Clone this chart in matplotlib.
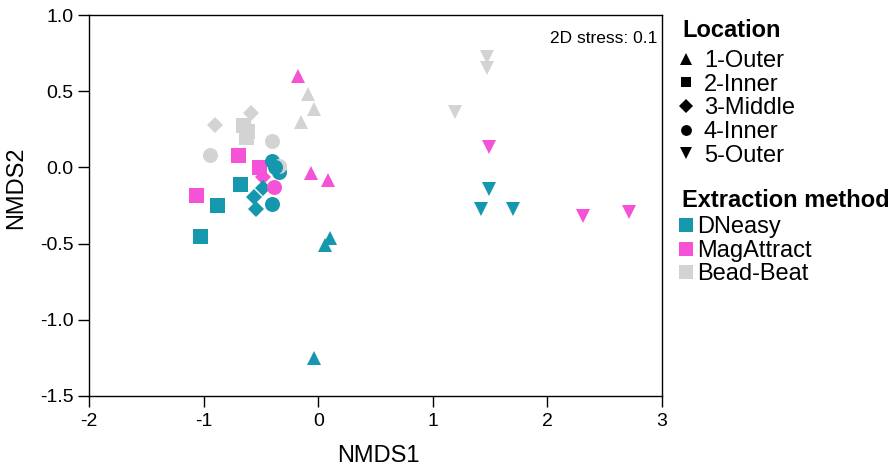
import matplotlib
matplotlib.use("Agg")
import matplotlib.pyplot as plt
from matplotlib.lines import Line2D

plt.rcParams['font.family'] = ['Liberation Sans', 'DejaVu Sans']

teal = '#1597AD'
magenta = '#F552D8'
gray = '#D3D3D3'

methods = ['DNeasy', 'MagAttract', 'Bead-Beat']
method_colors = {'DNeasy': teal, 'MagAttract': magenta, 'Bead-Beat': gray}
locations = ['1-Outer', '2-Inner', '3-Middle', '4-Inner', '5-Outer']
loc_markers = {'1-Outer': '^', '2-Inner': 's', '3-Middle': 'D', '4-Inner': 'o', '5-Outer': 'v'}

loc_list = (['1-Outer'] * 9 + ['2-Inner'] * 9 + ['3-Middle'] * 6 + ['4-Inner'] * 8 + ['5-Outer'] * 9)
meth_list = (['Bead-Beat'] * 3 + ['MagAttract'] * 3 + ['DNeasy'] * 3 +
             ['Bead-Beat'] * 3 + ['MagAttract'] * 3 + ['DNeasy'] * 3 +
             ['Bead-Beat'] * 2 + ['MagAttract'] * 1 + ['DNeasy'] * 3 +
             ['DNeasy'] * 3 + ['MagAttract'] * 1 + ['Bead-Beat'] * 3 + ['DNeasy'] * 1 +
             ['Bead-Beat'] * 3 + ['MagAttract'] * 3 + ['DNeasy'] * 3)
nmds1 = [-0.09, -0.035, -0.146, -0.175, -0.06, 0.087, 0.10, 0.06, -0.04,
         -0.66, -0.63, -0.62, -0.70, -1.07, -0.52, -0.68, -0.88, -1.03,
         -0.90, -0.59, -0.485, -0.485, -0.56, -0.54,
         -0.34, -0.40, -0.40, -0.39, -0.40, -0.94, -0.345, -0.38,
         1.47, 1.47, 1.19, 1.49, 2.31, 2.71, 1.49, 1.42, 1.70]
nmds2 = [0.48, 0.385, 0.30, 0.60, -0.04, -0.08, -0.46, -0.51, -1.25,
         0.28, 0.20, 0.24, 0.08, -0.18, 0.005, -0.11, -0.25, -0.45,
         0.28, 0.355, -0.06, -0.137, -0.196, -0.27,
         -0.03, 0.04, -0.24, -0.13, 0.17, 0.08, 0.01, 0.00,
         0.726, 0.65, 0.363, 0.133, -0.32, -0.29, -0.14, -0.27, -0.27]

marker_sizes = {'^': 10, 'v': 10, 's': 10.8, 'o': 10.8, 'D': 8.3}
legend_marker_sizes = {'^': 8.4, 'v': 8.4, 's': 7.4, 'o': 7.8, 'D': 7.0}

W, H = 895, 472
fig = plt.figure(figsize=(W / 100, H / 100), dpi=100)
ax = fig.add_axes([89 / W, 1 - 396 / H, (662 - 89) / W, (396 - 15) / H])

for loc, meth, x, y in zip(loc_list, meth_list, nmds1, nmds2):
    m = loc_markers[loc]
    ax.plot([x], [y], linestyle='none', marker=m, markersize=marker_sizes[m],
            color=method_colors[meth], markeredgewidth=0)

ax.set_xlim(-2, 3)
ax.set_ylim(-1.5, 1.0)
ax.set_xticks([-2, -1, 0, 1, 2, 3])
ax.set_xticklabels(['-2', '-1', '0', '1', '2', '3'])
ax.set_yticks([-1.5, -1.0, -0.5, 0.0, 0.5, 1.0])
ax.set_yticklabels(['-1.5', '-1.0', '-0.5', '0.0', '0.5', '1.0'])
ax.tick_params(direction='out', length=8, width=1, labelsize=14, color='black')
ax.tick_params(axis='x', pad=4)
ax.tick_params(axis='y', pad=3)
for s in ax.spines.values():
    s.set_linewidth(1)
ax.set_xlabel('NMDS1', fontsize=17)
ax.set_ylabel('NMDS2', fontsize=17)
ax.xaxis.set_label_coords((378 - 89) / 573, (396 - 445) / 381)
ax.yaxis.set_label_coords((27 - 89) / 573, (396 - 188) / 381)

fig.text(657 / W, 1 - 43 / H, '2D stress: 0.1', ha='right', va='baseline', fontsize=12.5)


def fx(px):
    return px / W


def fy(py):
    return 1 - py / H


# Legend: Location
fig.text(fx(682), fy(37), 'Location', fontsize=17, fontweight='bold', va='baseline', ha='left')
loc_baselines = [67, 90.7, 114.4, 138.1, 161.8]
for l, b in zip(locations, loc_baselines):
    m = loc_markers[l]
    fig.add_artist(Line2D([fx(685.5)], [fy(b - 8.5)], linestyle='none', marker=m,
                          markersize=legend_marker_sizes[m], color='black',
                          markeredgewidth=0, transform=fig.transFigure))
    fig.text(fx(704), fy(b), l, fontsize=17, va='baseline', ha='left')

# Legend: Extraction method
fig.text(fx(682), fy(207), 'Extraction method', fontsize=17, fontweight='bold', va='baseline', ha='left')
meth_baselines = [233, 256.7, 280]
for mth, b in zip(methods, meth_baselines):
    fig.add_artist(Line2D([fx(685.5)], [fy(b - 8)], linestyle='none', marker='s',
                          markersize=10.5, color=method_colors[mth],
                          markeredgewidth=0, transform=fig.transFigure))
    fig.text(fx(697), fy(b), mth, fontsize=17, va='baseline', ha='left')

fig.savefig('out.png', dpi=100)
